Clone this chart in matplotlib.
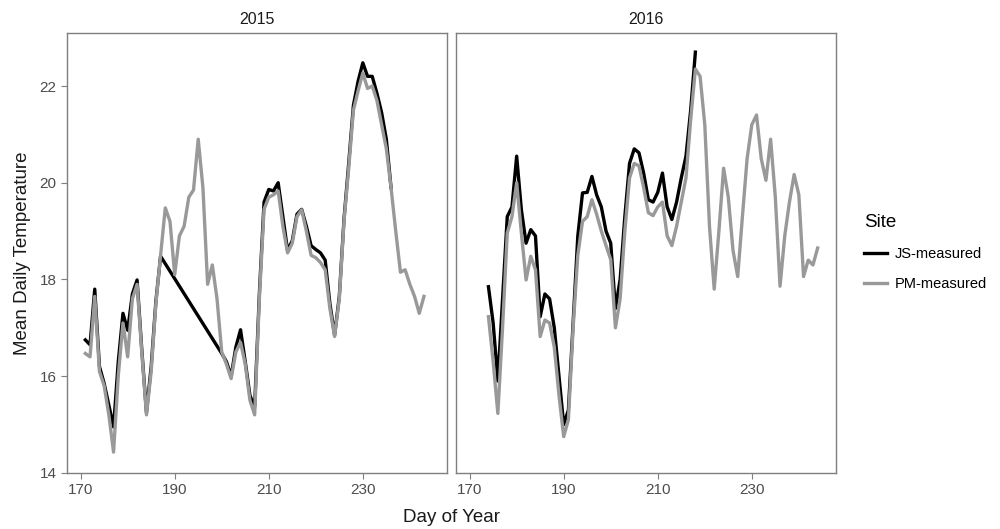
import matplotlib
matplotlib.use("Agg")
from matplotlib import pyplot as plt

plt.rcParams['font.family'] = ['Liberation Sans', 'DejaVu Sans']

# 2015 values
days_pm_2015 = list(range(171, 244))
pm_2015 = [16.47, 16.40, 17.65, 16.1, 15.8, 15.2, 14.43, 16.0, 17.1, 16.4,
           17.6, 17.9, 16.5, 15.2, 16.1, 17.5, 18.5, 19.48, 19.2, 18.1,
           18.9, 19.1, 19.7, 19.85, 20.9, 19.9, 17.9, 18.3, 17.6, 16.5,
           16.25, 15.95, 16.5, 16.7, 16.25, 15.5, 15.2, 17.6, 19.45, 19.7,
           19.75, 19.83, 19.1, 18.55, 18.75, 19.3, 19.44, 19.0, 18.5, 18.45,
           18.35, 18.2, 17.4, 16.82, 17.6, 19.2, 20.3, 21.5, 21.9, 22.27,
           21.95, 22.0, 21.7, 21.2, 20.7, 19.9, 19.0, 18.15, 18.2, 17.9,
           17.65, 17.3, 17.65]

# JS logger missing days 188-199 in 2015
days_js_2015 = list(range(171, 188)) + list(range(200, 237))
js_2015 = [16.75, 16.65, 17.8, 16.2, 15.85, 15.4, 14.95, 16.3, 17.3, 16.95,
           17.7, 17.99, 16.55, 15.25, 16.2, 17.55, 18.48,
           16.47, 16.3, 16.0, 16.6, 16.96, 16.3, 15.6, 15.37, 17.7, 19.6,
           19.86, 19.83, 20.0, 19.3, 18.6, 18.8, 19.35, 19.45, 19.1, 18.7,
           18.62, 18.55, 18.4, 17.5, 16.85, 17.65, 19.25, 20.4, 21.6, 22.1,
           22.48, 22.2, 22.2, 21.85, 21.45, 20.9, 19.9]

# 2016 values
days_pm_2016 = list(range(174, 245))
pm_2016 = [17.23, 16.3, 15.23, 17.0, 18.96, 19.3, 20.0, 18.96, 17.99, 18.48,
           18.2, 16.82, 17.16, 17.1, 16.6, 15.6, 14.75, 15.1, 17.0, 18.5,
           19.2, 19.3, 19.65, 19.35, 19.0, 18.7, 18.41, 17.0, 17.6, 19.0,
           20.1, 20.4, 20.35, 19.9, 19.38, 19.32, 19.5, 19.6, 18.9, 18.7,
           19.1, 19.6, 20.1, 21.3, 22.35, 22.2, 21.2, 19.1, 17.8, 19.0,
           20.3, 19.7, 18.6, 18.06, 19.3, 20.5, 21.2, 21.4, 20.5, 20.05,
           20.9, 19.7, 17.86, 18.9, 19.6, 20.17, 19.75, 18.06, 18.4, 18.3,
           18.65]

days_js_2016 = list(range(174, 219))
js_2016 = [17.85, 17.1, 15.9, 17.6, 19.3, 19.5, 20.55, 19.44, 18.75, 19.03,
           18.9, 17.23, 17.7, 17.6, 17.0, 16.0, 15.0, 15.3, 17.1, 18.9,
           19.79, 19.8, 20.13, 19.75, 19.5, 19.0, 18.75, 17.4, 18.0, 19.3,
           20.4, 20.7, 20.62, 20.2, 19.65, 19.6, 19.8, 20.2, 19.5, 19.24,
           19.6, 20.1, 20.55, 21.5, 22.7]

years = ["2015", "2016"]
x_ticks = [170, 190, 210, 230]
y_ticks = [14, 16, 18, 20, 22]

fig = plt.figure(figsize=(10, 5.29), dpi=100)
ax1 = fig.add_axes([0.067, 0.106, 0.380, 0.832])
ax2 = fig.add_axes([0.456, 0.106, 0.380, 0.832])

panels = [(ax1, days_js_2015, js_2015, days_pm_2015, pm_2015),
          (ax2, days_js_2016, js_2016, days_pm_2016, pm_2016)]

for i, (ax, dj, vj, dp, vp) in enumerate(panels):
    ax.plot(dj, vj, color='black', lw=2.4, label='JS-measured', solid_joinstyle='round')
    ax.plot(dp, vp, color='#999999', lw=2.4, label='PM-measured', solid_joinstyle='round')
    ax.set_xlim(167.1, 247.9)
    ax.set_ylim(14, 23.1)
    ax.set_xticks(x_ticks)
    ax.set_yticks(y_ticks)
    for s in ax.spines.values():
        s.set_color('#7f7f7f')
        s.set_linewidth(1.0)
    ax.tick_params(colors='#7f7f7f', labelcolor='#4d4d4d', labelsize=11, length=4, width=0.8)
    ax.set_title(years[i], fontsize=11.5, color='#1a1a1a', pad=6)
    if i == 1:
        ax.tick_params(axis='y', left=False, labelleft=False)

ax1.set_ylabel("Mean Daily Temperature", fontsize=13.5, color='#1a1a1a', labelpad=6)
fig.text(0.4515, 0.022, "Day of Year", fontsize=13.5, color='#1a1a1a', ha='center', va='center')

handles, labels = ax1.get_legend_handles_labels()
leg = fig.legend(handles, labels, title="Site", loc='upper left', bbox_to_anchor=(0.851, 0.62),
                 frameon=False, fontsize=10.5, title_fontsize=13.5, handlelength=1.6,
                 handletextpad=0.5, labelspacing=1.1)
leg._legend_box.align = 'left'

fig.savefig("out.png", dpi=100)
